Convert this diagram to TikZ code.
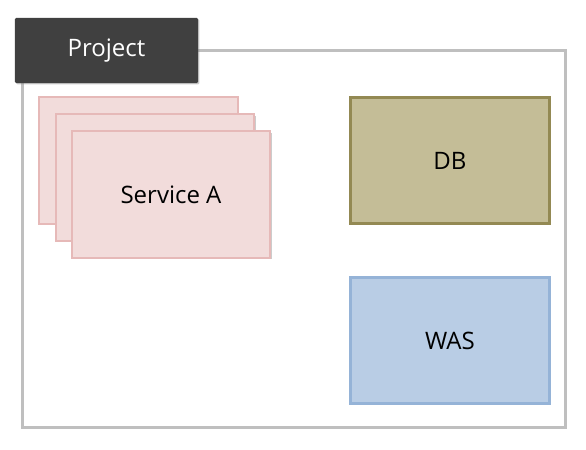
\documentclass[tikz,border=0pt]{standalone}
\usepackage{fontspec}
\setmainfont{Open Sans}
\usetikzlibrary{shadows}

\definecolor{svcfill}{HTML}{F2DCDB}
\definecolor{svcline}{HTML}{E6B9B8}
\definecolor{dbfill}{HTML}{C4BD97}
\definecolor{dbline}{HTML}{938953}
\definecolor{wasfill}{HTML}{B9CDE5}
\definecolor{wasline}{HTML}{95B3D7}
\definecolor{tabfill}{HTML}{404040}
\definecolor{frameline}{HTML}{BFBFBF}

\tikzset{
	box/.style={rectangle,minimum width=5.95cm,minimum height=3.8cm,
		font=\fontsize{20.5}{24}\selectfont,
		drop shadow={shadow xshift=1.2pt,shadow yshift=-1.2pt,opacity=0.4}},
	svc/.style={box,fill=svcfill,draw=svcline,line width=1.8pt},
}

\begin{document}
\begin{tikzpicture}[x=0.03cm,y=-0.03cm]
	\useasboundingbox (0,0) rectangle (586,450);
	% project frame
	\node[draw=frameline,line width=2.4pt,minimum width=16.3cm,minimum height=11.3cm,
		drop shadow={shadow xshift=1pt,shadow yshift=-1pt,opacity=0.3},fill=white] (frame) at (294,239) {};
	\node[fill=tabfill,minimum width=5.49cm,minimum height=1.95cm,text=white,rounded corners=1pt,
		font=\fontsize{20.5}{24}\selectfont,
		drop shadow={shadow xshift=1.2pt,shadow yshift=-1.2pt,opacity=0.4}] (project) at (106.5,50.5) {Project};
	% services
	\node[svc] (svc1) at (138.5,160.5) {};
	\node[svc] (svc2) at (155,177.5) {};
	\node[svc] (svc3) at (171,194.5) {Service A};
	% db and was
	\node[box,fill=dbfill,draw=dbline,line width=2.4pt] (db) at (450,160.5) {DB};
	\node[box,fill=wasfill,draw=wasline,line width=2.4pt] (was) at (450,340.5) {WAS};
\end{tikzpicture}
\end{document}
